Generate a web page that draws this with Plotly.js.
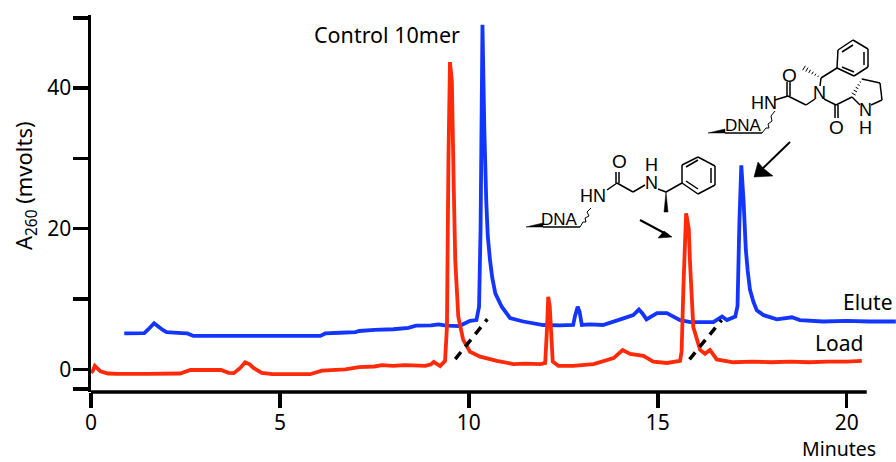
<!DOCTYPE html>
<html><head><meta charset="utf-8">
<script src="https://cdn.plot.ly/plotly-3.0.1.min.js"></script>
<style>html,body{margin:0;padding:0;background:#fff}</style></head>
<body><div id="chart" style="width:896px;height:462px"></div>
<script>
// Series
const eluteMinutes = [0.88,1.41,1.52,1.67,1.78,1.9,2.0,2.4,2.55,2.71,4.0,6.07,6.2,6.6,7.0,7.1,7.5,8.0,8.4,8.6,9.0,9.2,9.4,9.75,10.03,10.2,10.27,10.31,10.36,10.41,10.46,10.5,10.56,10.62,10.7,10.87,11.09,11.44,11.97,12.4,12.76,12.81,12.88,12.93,12.99,13.2,13.55,14.09,14.35,14.5,14.6,14.7,14.98,15.24,15.59,15.86,16.47,16.7,16.83,17.05,17.11,17.16,17.21,17.27,17.33,17.38,17.44,17.53,17.62,17.8,18.15,18.55,18.76,19.37,20.0,20.6,21.3];
const eluteMvolts  = [5.1,5.15,5.7,6.55,6.1,5.6,5.3,5.15,5.1,4.75,4.75,4.75,5.1,5.2,5.3,5.45,5.6,5.7,5.9,6.2,6.25,6.4,6.2,6.15,6.9,7.0,8.9,20,49,34,24,19,15.5,13,10.8,8.9,7.3,6.8,6.3,6.25,6.3,7.6,8.9,8.2,6.3,6.4,6.3,7.25,7.7,8.5,7.9,7.1,8.0,8.0,7.0,6.7,6.7,7.5,7.0,7.5,9,21,29,24,17,14,11.3,9.6,8.4,7.7,7.1,7.4,7.0,6.8,6.9,6.8,6.8];
const loadMinutes = [0,0.05,0.1,0.25,0.45,0.7,1.5,2.36,2.63,3.44,3.64,3.78,3.95,4.08,4.2,4.3,4.52,4.8,5.8,6.11,6.73,7.09,7.5,7.7,8.0,8.3,8.5,8.85,9.0,9.07,9.24,9.37,9.42,9.46,9.5,9.55,9.6,9.64,9.72,9.85,10.03,10.3,10.74,11.18,11.5,11.9,12.02,12.07,12.1,12.14,12.22,12.37,12.76,13.3,13.83,14.07,14.27,14.62,14.88,15.24,15.59,15.63,15.68,15.75,15.82,15.85,15.94,16.12,16.25,16.38,16.56,17,17.5,18,18.5,19,19.5,20,20.4];
const loadMvolts  = [-0.5,-0.2,0.5,-0.3,-0.6,-0.65,-0.65,-0.6,-0.1,-0.1,-0.5,-0.55,0.2,1.0,0.7,0.2,-0.5,-0.7,-0.7,-0.2,0,0.3,0.4,0.6,0.5,0.6,0.55,0.5,0.7,1.05,0.45,1.2,6,30,43.7,41,26,15.5,7.5,4.2,2.5,1.8,1.2,0.75,0.8,0.75,0.9,6,10.3,9,1.1,0.5,0.5,0.75,1.6,2.75,2.2,1.9,1.1,0.9,1.2,2.5,12,22.2,20,15.5,6,2.75,2.2,2.75,1.4,1.0,1.1,1.0,1.1,1.0,1.1,1.1,1.2];

const xTicks = [0,5,10,15,20];
const yTicks = [0,20,40];
const yUnlabelledTicks = [-2.8,10,30,50];
const dashMinutes1 = [9.64,10.49], dashMvolts1 = [1.46,7.15];
const dashMinutes2 = [15.84,16.69], dashMvolts2 = [1.42,7.0];
const axisEndMinutes = 20.53;

// Plot box in pixels, used to place the hand-drawn chemical structures
const L=91,R=896,T=15,B=392;
const px=x=>(x-L)/(R-L), py=y=>(B-y)/(B-T);
const bonds = [
 // structure 1
 [543,227,580,227],[607,190,617,183],[616,183,616,172],[619,183,619,172],[617,183,633,192],[633,192,645,185],
 [658,189,666,192],[666,192,682,183],
 [682,183,682,165],[682,165,698,157],[698,157,715,166],[715,166,715,185],[715,185,698,194],[698,194,682,183],
 [686,167,698,160],[711,168,711,183],[686,181,698,189],
 // structure 2
 [725,133,762,133],[775,100,788,96],[787,96,787,82],[790,96,790,82],[788,96,806,105],[806,105,815,99],
 [820,86,821,78],[821,78,837,68],[824,99,836,105],[835,105,835,118],[838,105,838,118],[836,105,852,97],
 [852,97,860,105],[871,105,882,100],[882,100,880,83],[880,83,862,79],
 [837,68,838,50],[838,50,853,40],[853,40,868,49],[868,49,868,67],[868,67,854,76],[854,76,837,68],
 [842,52,853,45],[864,52,864,65],[842,67,854,72]
];
const solids = [
 [[526,227],[543,223],[543,227]],[[666,192],[664,212],[668,212]],
 [[708,133],[725,129],[725,133]],
 [[672,237],[658,238],[664,231]],[[754,177],[758,162],[763,168],[773,176]]
];
const squiggles = [[[580,227],[583,222],[586,222],[585,218],[589,216],[587,212],[591,208]],
                   [[762,133],[766,128],[769,128],[768,124],[772,121],[771,116],[775,111]]];
const hashes = [[852,97,862,79,6],[821,78,804,68,6]];
const arrows = [[640,220,668,235],[790,142,760,171]];
const structureLabels = [['DNA',559,219.5,17],['HN',593,196,18],['O',619,162,19],['N',651,183,18],['H',651,165,18],
 ['DNA',743,125.5,17],['HN',764,103,18],['O',789,75,19],['N',819,93,18],['O',836,127,19],['N',865,110,18],['H',865,128,18]];

const shapes=[];
const seg=(a,w,c)=>shapes.push({type:'line',xref:'paper',yref:'paper',x0:px(a[0]),y0:py(a[1]),x1:px(a[2]),y1:py(a[3]),line:{color:c||'#000',width:w}});
bonds.forEach(b=>seg(b,1.5));
arrows.forEach(b=>seg(b,2));
solids.forEach(p=>shapes.push({type:'path',xref:'paper',yref:'paper',fillcolor:'#000',line:{color:'#000',width:0.5},
  path:'M'+p.map(q=>px(q[0])+','+py(q[1])).join('L')+'Z'}));
squiggles.forEach(p=>shapes.push({type:'path',xref:'paper',yref:'paper',line:{color:'#000',width:1},
  path:'M'+p.map(q=>px(q[0])+','+py(q[1])).join('L')}));
hashes.forEach(h=>{const n=h[4];for(let i=1;i<=n;i++){const t=i/n,cx=h[0]+(h[2]-h[0])*t,cy=h[1]+(h[3]-h[1])*t;
  const dx=h[3]-h[1],dy=h[0]-h[2],l=Math.hypot(dx,dy),s=(0.4+2.2*(h===hashes[0]?1-t:t));
  seg([cx-dx/l*s,cy-dy/l*s,cx+dx/l*s,cy+dy/l*s],1);}});
[[dashMinutes1,dashMvolts1],[dashMinutes2,dashMvolts2]].forEach(d=>shapes.push({type:'line',xref:'x',yref:'y',
  x0:d[0][0],x1:d[0][1],y0:d[1][0],y1:d[1][1],line:{color:'#000',width:3.5,dash:'9px,7px'}}));
// x axis line stops short of the plot's right edge; the traces run on past it
shapes.push({type:'line',xref:'x',yref:'paper',x0:0,x1:axisEndMinutes,y0:0,y1:0,line:{color:'#000',width:3.5}});

const FONT='"Noto Sans", "Open Sans", sans-serif';
const ann=(text,x,y,size,extra)=>Object.assign({text,xref:'paper',yref:'paper',x:px(x),y:py(y),showarrow:false,
  xanchor:'center',yanchor:'middle',font:{family:FONT,size:size,color:'#000'},borderpad:0},extra||{});
const annotations=[
 ann('Control 10mer',387,35,21.5),
 ann('Elute',868,302,21),
 ann('Load',839,343,21),
 ann('Minutes',839,448.5,19.5),
 ann('A<sub>260</sub> (mvolts)',25,186,22,{textangle:-90})
].concat(structureLabels.map(l=>ann(l[0],l[1],l[2],l[3],{font:{family:'"Liberation Sans", Arial, sans-serif',size:l[3],color:'#000'}})));

const axisCommon={showgrid:false,zeroline:false,linecolor:'#000',linewidth:3.5,ticks:'outside',ticklen:15,tickwidth:3.5,tickcolor:'#000',
  tickfont:{family:FONT,size:21,color:'#000'},tickmode:'array',ticklabelstandoff:-3};
Plotly.newPlot('chart',[
 {x:eluteMinutes,y:eluteMvolts,name:'Elute',type:'scatter',mode:'lines',line:{color:'#1236ff',width:3.8,simplify:false}},
 {x:loadMinutes,y:loadMvolts,name:'Load',type:'scatter',mode:'lines',line:{color:'#ff2a0a',width:3.8,simplify:false}}
],{
 width:896,height:462,showlegend:false,paper_bgcolor:'#fff',plot_bgcolor:'#fff',
 margin:{l:L,r:896-R,t:T,b:462-B,pad:0},
 xaxis:Object.assign({},axisCommon,{showline:false,range:[0,(R-90.7)/37.8],tickvals:xTicks,ticktext:xTicks.map(String)}),
 yaxis:Object.assign({},axisCommon,{showline:true,range:[(369.3-B)/7.03,(369.3-T)/7.03],tickvals:yTicks,ticktext:yTicks.map(String),
   minor:{tickmode:'array',tickvals:yUnlabelledTicks,ticks:'outside',ticklen:15,tickwidth:3.5,tickcolor:'#000',showgrid:false}}),
 shapes,annotations
},{displayModeBar:false,staticPlot:true});
</script></body></html>
